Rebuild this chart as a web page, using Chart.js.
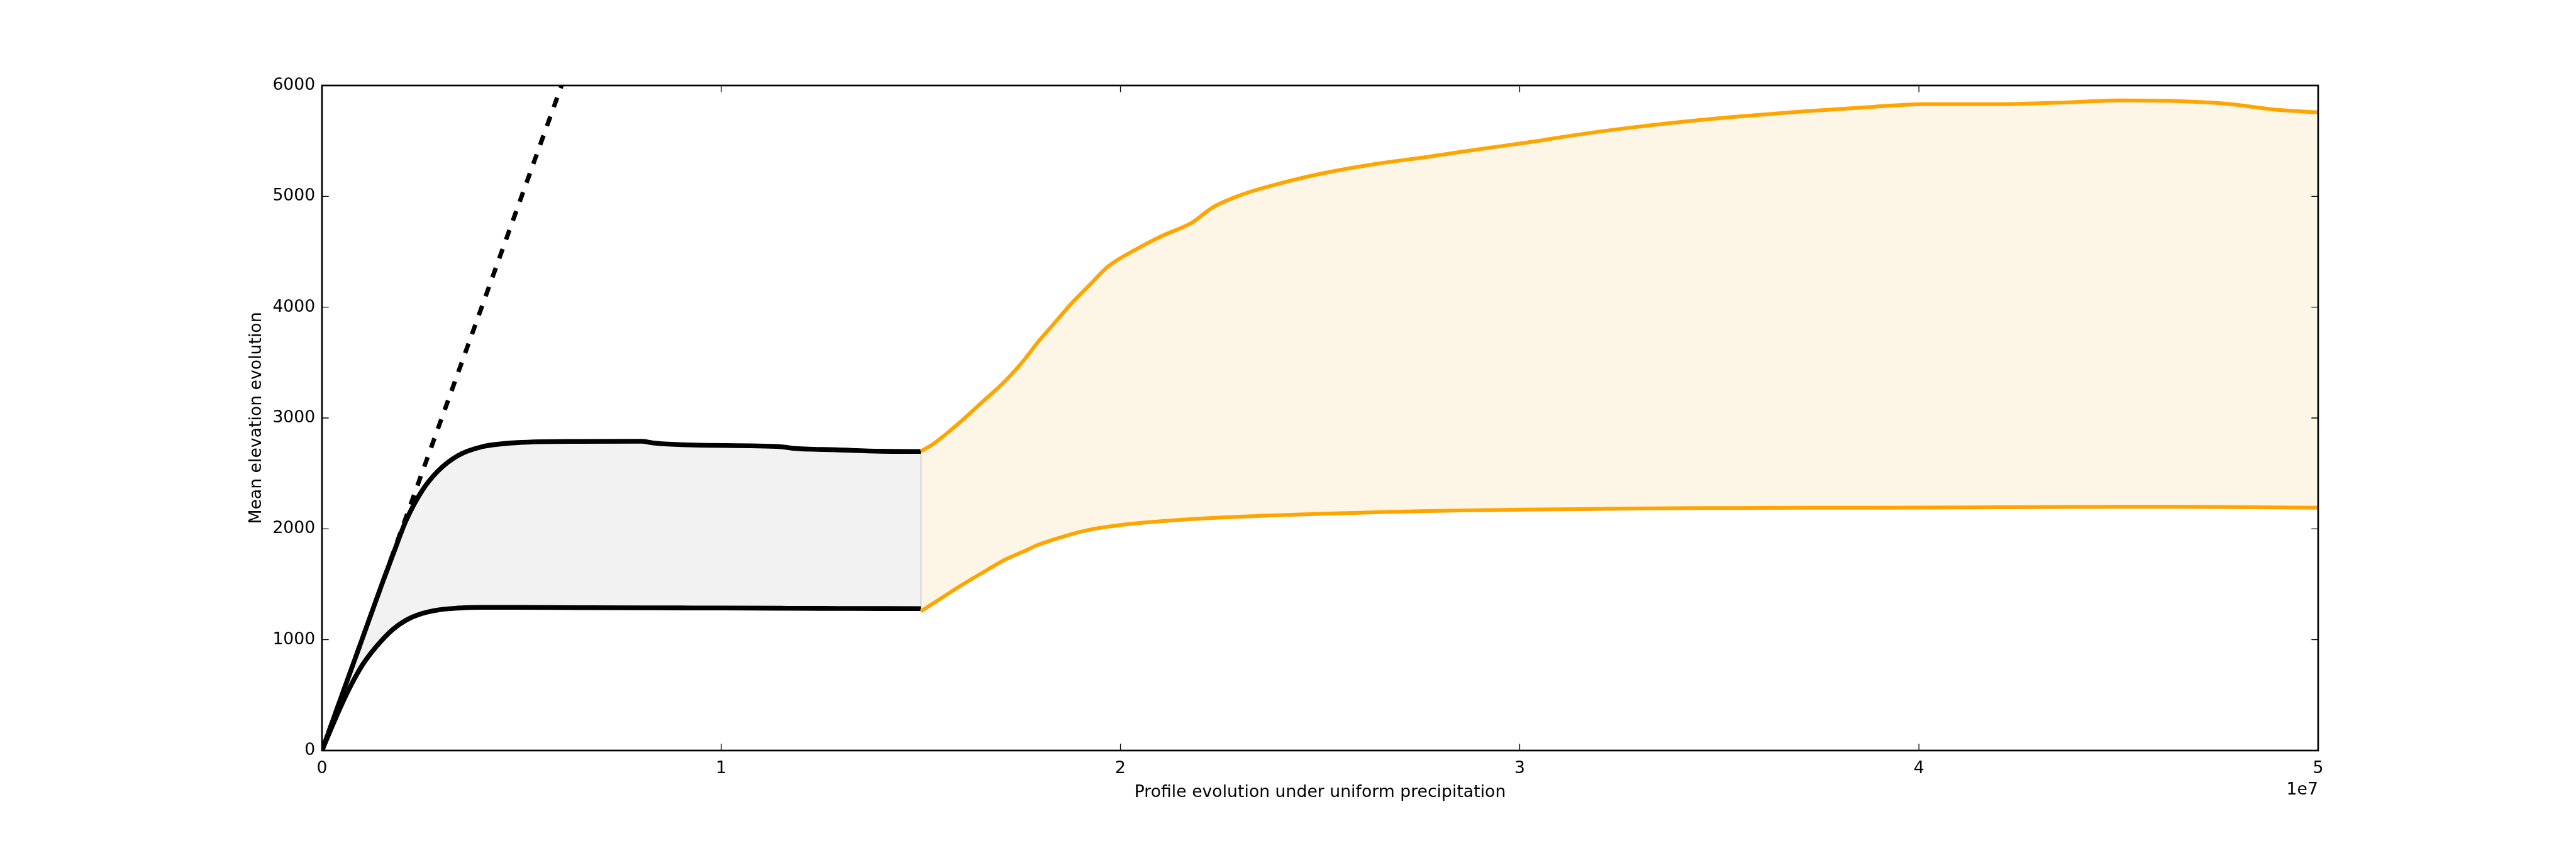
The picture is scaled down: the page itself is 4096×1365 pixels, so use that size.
<!DOCTYPE html>
<html>
<head>
<meta charset="utf-8">
<title>Mean elevation evolution</title>
<script src="https://cdn.jsdelivr.net/npm/chart.js@4.4.1/dist/chart.umd.min.js"></script>
<style>
  html, body { margin: 0; padding: 0; background: #ffffff; overflow: hidden; }
  #elevationChart { display: block; width: 4096px; height: 1365px; }
</style>
</head>
<body>
<canvas id="elevationChart" width="4096" height="1365"></canvas>
<script>
var ctx = document.querySelector('#elevationChart');

// first run (uniform precipitation, up to 1.5e7)
const blackTimes = [0, 2.5e5, 5e5, 7.5e5, 1.0e6, 1.25e6, 1.5e6, 1.8e6, 2.1e6, 2.5e6, 2.9e6, 3.4e6,
  4.0e6, 4.9e6, 6.4e6, 8.0e6, 8.3e6, 9.3e6, 1.15e7, 1.18e7, 1.29e7, 1.40e7, 1.50e7];
const blackUpper = [0, 250, 500, 750, 1000, 1250, 1500, 1790, 2070, 2340, 2520, 2660,
  2740, 2778, 2789, 2790, 2775, 2756, 2741, 2726, 2713, 2700, 2698];
const blackLower = [0, 215, 420, 605, 765, 890, 995, 1100, 1175, 1235, 1268, 1285,
  1292, 1292, 1289, 1287, 1287, 1286, 1284, 1283, 1282, 1281, 1280];

// second run (from 1.5e7 to 5e7)
const orangeTimes = [1.50e7, 1.53e7, 1.59e7, 1.65e7, 1.71e7, 1.76e7, 1.79e7, 1.83e7, 1.88e7, 1.92e7,
  1.97e7, 2.04e7, 2.10e7, 2.18e7, 2.23e7, 2.31e7, 2.38e7, 2.51e7, 2.64e7, 2.77e7, 2.90e7, 3.01e7,
  3.16e7, 3.29e7, 3.45e7, 3.53e7, 3.71e7, 3.89e7, 4.01e7, 4.19e7, 4.38e7, 4.50e7, 4.62e7, 4.77e7,
  4.89e7, 5.00e7];
const orangeUpper = [2700, 2763, 2937, 3132, 3330, 3530, 3670, 3837, 4044, 4190,
  4370, 4523, 4636, 4764, 4898, 5023, 5098, 5210, 5293, 5356, 5426, 5481,
  5564, 5625, 5688, 5715, 5766, 5809, 5831, 5831, 5849, 5866, 5862, 5835,
  5783, 5757];
const orangeLower = [1256, 1325, 1465, 1595, 1720, 1800, 1850, 1900, 1955, 1990,
  2020, 2050, 2068, 2088, 2098, 2111, 2121, 2137, 2150, 2161, 2168, 2173,
  2178, 2183, 2187, 2188, 2190, 2191, 2192, 2194, 2197, 2199, 2199, 2196,
  2193, 2191];

// uplift reference line
const upliftTimes = [0, 6e6];
const upliftValues = [0, 6000];

const xTickValues = [0, 1e7, 2e7, 3e7, 4e7, 5e7];
const yTickValues = [0, 1000, 2000, 3000, 4000, 5000, 6000];

const X_TITLE = 'Profile evolution under uniform precipitation';
const Y_TITLE = 'Mean elevation evolution';
const X_OFFSET_TEXT = '1e7';

const COLOR_BLACK = '#000000';
const COLOR_ORANGE = '#ffa500';
const COLOR_GREY_FILL = '#f2f2f2';
const COLOR_ORANGE_FILL = '#fdf5e6';
const COLOR_EDGE = '#dadcde';
const FONT_FAMILY = '"DejaVu Sans", sans-serif';
const FONT_SIZE = 26.7;
const TICK_LENGTH = 10.7;
const BLACK_WIDTH = 7.6;
const ORANGE_WIDTH = 6;

function toPoints(xs, ys){
  return xs.map((v, i) => ({x: v, y: ys[i]}));
}

const frameAndLabels = {
  id: 'frameAndLabels',
  afterDraw(chart){
    const c = chart.ctx;
    const a = chart.chartArea;
    const xs = chart.scales.x;
    const ys = chart.scales.y;
    c.save();
    c.strokeStyle = COLOR_BLACK;
    c.lineWidth = 1.4;
    c.beginPath();
    xs.ticks.forEach((t, i) => {
      const px = xs.getPixelForTick(i);
      c.moveTo(px, a.bottom); c.lineTo(px, a.bottom - TICK_LENGTH);
      c.moveTo(px, a.top); c.lineTo(px, a.top + TICK_LENGTH);
    });
    ys.ticks.forEach((t, i) => {
      const py = ys.getPixelForTick(i);
      c.moveTo(a.left, py); c.lineTo(a.left + TICK_LENGTH, py);
      c.moveTo(a.right, py); c.lineTo(a.right - TICK_LENGTH, py);
    });
    c.stroke();
    c.lineWidth = 2.7;
    c.strokeRect(a.left, a.top, a.right - a.left, a.bottom - a.top);

    c.fillStyle = COLOR_BLACK;
    c.font = FONT_SIZE + 'px ' + FONT_FAMILY;
    c.textAlign = 'center';
    c.textBaseline = 'middle';
    c.fillText(X_TITLE, (a.left + a.right) / 2, 1261);
    c.textAlign = 'right';
    c.fillText(X_OFFSET_TEXT, a.right, 1257);
    c.translate(408, (a.top + a.bottom) / 2);
    c.rotate(-Math.PI / 2);
    c.textAlign = 'center';
    c.fillText(Y_TITLE, 0, 0);
    c.restore();
  }
};

function loadChart(){
  const blackEnd = blackTimes.length - 1;
  return new Chart(ctx, {
    type: 'line',
    data: {
      datasets: [
        {
          label: 'upper',
          data: toPoints(blackTimes, blackUpper),
          borderColor: COLOR_BLACK,
          backgroundColor: COLOR_GREY_FILL,
          borderWidth: BLACK_WIDTH,
          fill: 1,
          order: 2
        },
        {
          label: 'lower',
          data: toPoints(blackTimes, blackLower),
          borderColor: COLOR_BLACK,
          borderWidth: BLACK_WIDTH,
          fill: false,
          order: 2
        },
        {
          label: 'upper 2',
          data: toPoints(orangeTimes, orangeUpper),
          borderColor: COLOR_ORANGE,
          backgroundColor: COLOR_ORANGE_FILL,
          borderWidth: ORANGE_WIDTH,
          fill: 3,
          order: 0
        },
        {
          label: 'lower 2',
          data: toPoints(orangeTimes, orangeLower),
          borderColor: COLOR_ORANGE,
          borderWidth: ORANGE_WIDTH,
          fill: false,
          order: 0
        },
        {
          label: 'uplift',
          data: toPoints(upliftTimes, upliftValues),
          borderColor: COLOR_BLACK,
          borderWidth: 7,
          borderDash: [16, 16],
          borderCapStyle: 'butt',
          cubicInterpolationMode: 'default',
          tension: 0,
          fill: false,
          order: 1
        },
        {
          label: 'edge',
          data: [
            {x: blackTimes[blackEnd], y: blackLower[blackEnd]},
            {x: blackTimes[blackEnd], y: blackUpper[blackEnd]}
          ],
          borderColor: COLOR_EDGE,
          borderWidth: 2.5,
          tension: 0,
          fill: false,
          order: 3
        }
      ]
    },
    options: {
      responsive: false,
      devicePixelRatio: 1,
      animation: false,
      layout: { padding: { left: 0, right: 410, top: 136, bottom: 0 } },
      elements: {
        point: { radius: 0, hoverRadius: 0 },
        line: { cubicInterpolationMode: 'monotone', borderJoinStyle: 'round' }
      },
      plugins: {
        legend: { display: false },
        tooltip: { enabled: false },
        filler: { drawTime: 'beforeDatasetsDraw' }
      },
      scales: {
        x: {
          type: 'linear',
          min: 0,
          max: 5e7,
          afterFit: (scale) => { scale.height = 171; },
          afterBuildTicks: (scale) => { scale.ticks = xTickValues.map(v => ({value: v})); },
          ticks: {
            callback: (v) => String(v / 1e7),
            color: COLOR_BLACK,
            font: { family: FONT_FAMILY, size: FONT_SIZE },
            padding: 13,
            maxRotation: 0,
            autoSkip: false
          },
          grid: { display: false, drawTicks: false, tickLength: 0 },
          border: { display: false }
        },
        y: {
          type: 'linear',
          min: 0,
          max: 6000,
          afterFit: (scale) => { scale.width = 512; },
          afterBuildTicks: (scale) => { scale.ticks = yTickValues.map(v => ({value: v})); },
          ticks: {
            callback: (v) => String(v),
            color: COLOR_BLACK,
            font: { family: FONT_FAMILY, size: FONT_SIZE },
            padding: 10.7,
            autoSkip: false
          },
          grid: { display: false, drawTicks: false, tickLength: 0 },
          border: { display: false }
        }
      }
    },
    plugins: [frameAndLabels]
  });
}

loadChart();
</script>
</body>
</html>
